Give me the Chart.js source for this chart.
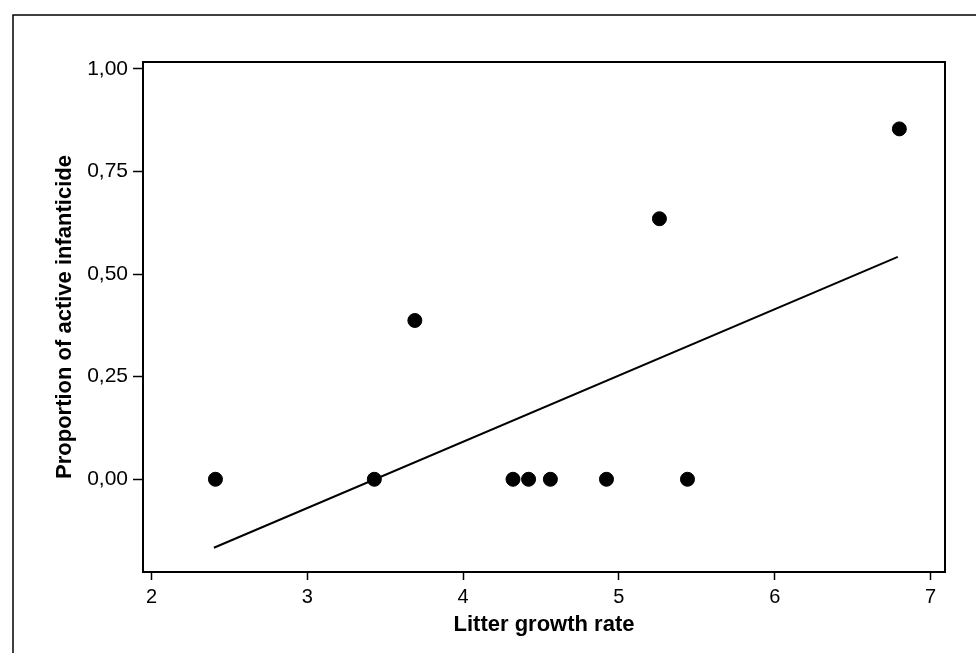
<!DOCTYPE html>
<html>
<head>
<meta charset="utf-8">
<script src="https://cdn.jsdelivr.net/npm/chart.js@4/dist/chart.umd.min.js"></script>
<style>
  html, body { margin: 0; padding: 0; background: #fff; }
  #wrap { position: relative; width: 976px; height: 653px; }
</style>
</head>
<body>
<div id="wrap"><canvas id="chart" width="976" height="653"></canvas></div>
<script>
// litter growth rate vs. proportion of active infanticide
const growthRate  = [2.41, 3.43, 3.69, 4.32, 4.42, 4.56, 4.92, 5.26, 5.44, 6.80]
const infanticide = [0, 0, 0.387, 0, 0, 0, 0, 0.635, 0, 0.854]

// fitted regression line, end points
const fitX = [2.40, 6.79]
const fitY = [-0.167, 0.542]

const xTicks = [2, 3, 4, 5, 6, 7]
const yTicks = [0, 0.25, 0.5, 0.75, 1.0]

const FONT = '"Liberation Sans", Arial, Helvetica, sans-serif'

// box round the plot and the outer page frame
const frames = {
  id: 'frames',
  afterDraw(chart) {
    const { ctx, chartArea: a } = chart
    ctx.save()
    ctx.strokeStyle = '#000'
    ctx.lineWidth = 2
    ctx.strokeRect(a.left, a.top, a.right - a.left, a.bottom - a.top)
    ctx.lineWidth = 1.5
    ctx.beginPath()
    ctx.moveTo(13, 653)
    ctx.lineTo(13, 15)
    ctx.lineTo(976, 15)
    ctx.stroke()
    ctx.restore()
  }
}

new Chart(document.getElementById('chart'), {
  type: 'scatter',
  data: {
    datasets: [
      {
        data: growthRate.map((x, i) => ({ x, y: infanticide[i] })),
        backgroundColor: '#000',
        borderColor: '#000',
        pointRadius: 7,
        pointHoverRadius: 7,
        order: 1,
      },
      {
        type: 'line',
        data: fitX.map((x, i) => ({ x, y: fitY[i] })),
        borderColor: '#000',
        borderWidth: 2,
        pointRadius: 0,
        fill: false,
        order: 2,
      },
    ],
  },
  options: {
    responsive: false,
    animation: false,
    layout: { padding: { top: 62, right: 31, left: 0, bottom: 0 } },
    plugins: {
      legend:  { display: false },
      tooltip: { enabled: false },
    },
    scales: {
      x: {
        type: 'linear',
        min: 1.945,
        max: 7.093,
        afterFit: s => { s.height = 81 },
        afterBuildTicks: s => { s.ticks = xTicks.map(v => ({ value: v })) },
        border: { display: false },
        grid: { drawOnChartArea: false, tickLength: 8, color: '#000', tickWidth: 1.5 },
        ticks: {
          color: '#000',
          padding: 5,
          font: { family: FONT, size: 20 },
          callback: v => String(v),
        },
        title: {
          display: true,
          text: 'Litter growth rate',
          color: '#000',
          font: { family: FONT, size: 22, weight: 'bold' },
          padding: { top: 0, bottom: 15 },
        },
      },
      y: {
        type: 'linear',
        min: -0.226,
        max: 1.017,
        afterFit: s => { s.width = 143 },
        afterBuildTicks: s => { s.ticks = yTicks.map(v => ({ value: v })) },
        border: { display: false },
        grid: { drawOnChartArea: false, tickLength: 10, color: '#000', tickWidth: 1.5 },
        ticks: {
          color: '#000',
          padding: 5,
          font: { family: FONT, size: 21 },
          callback: v => v.toFixed(2).replace('.', ','),
        },
        title: {
          display: true,
          text: 'Proportion of active infanticide',
          color: '#000',
          font: { family: FONT, size: 22, weight: 'bold' },
          padding: { top: 52, bottom: 0 },
        },
      },
    },
  },
  plugins: [frames],
})
</script>
</body>
</html>
